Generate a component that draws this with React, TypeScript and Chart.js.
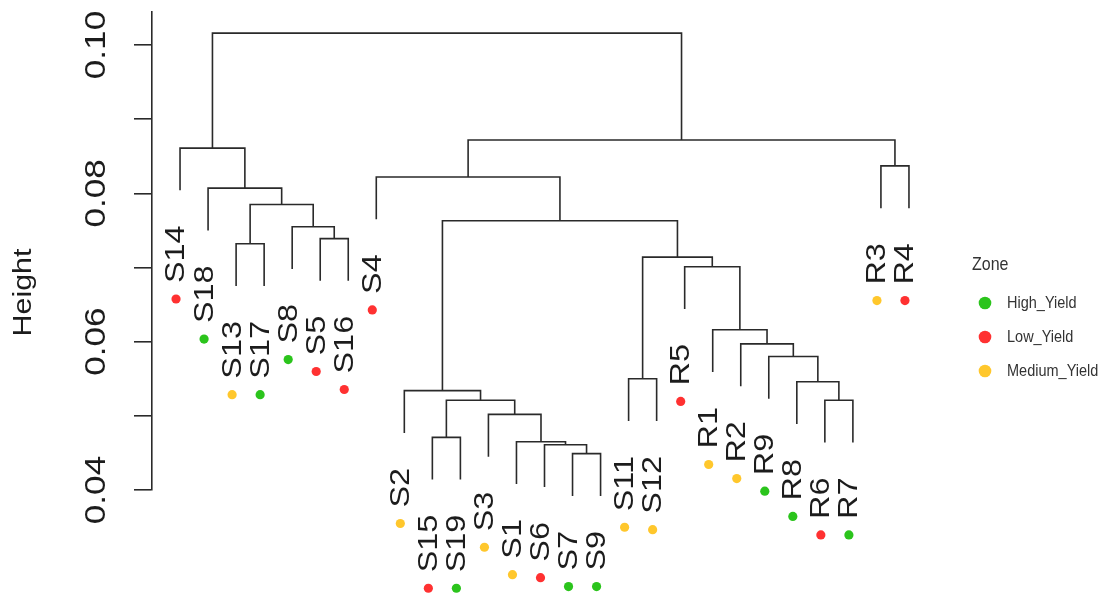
import React, { useEffect, useRef } from "react";
import { Chart, registerables } from "chart.js";

Chart.register(...registerables);

// ---- data ----
const leafLabels = [
  "S14", "S18", "S13", "S17", "S8", "S5", "S16", "S4", "S2", "S15", "S19", "S3", "S1", "S6",
  "S7", "S9", "S11", "S12", "R5", "R1", "R2", "R9", "R8", "R6", "R7", "R3", "R4",
];
const leafZones = [
  "Low_Yield", "High_Yield", "Medium_Yield", "High_Yield", "High_Yield", "Low_Yield", "Low_Yield",
  "Low_Yield", "Medium_Yield", "Low_Yield", "High_Yield", "Medium_Yield", "Medium_Yield", "Low_Yield",
  "High_Yield", "High_Yield", "Medium_Yield", "Medium_Yield", "Low_Yield", "Medium_Yield",
  "Medium_Yield", "High_Yield", "High_Yield", "Low_Yield", "High_Yield", "Medium_Yield", "Low_Yield",
];
// merges (hclust style): "m<k>" refers to the k-th merge
const mergeLeft = [
  "S15", "S7", "S6", "S1", "S3", "m1", "S2", "S11", "R6", "R8", "R9", "R2", "R1",
  "R5", "m8", "m7", "S4", "R3", "m17", "S13", "S5", "S8", "m20", "S18", "S14", "m25",
];
const mergeRight = [
  "S19", "S9", "m2", "m3", "m4", "m5", "m6", "S12", "R7", "m9", "m10", "m11", "m12",
  "m13", "m14", "m15", "m16", "R4", "m18", "S17", "S16", "m21", "m22", "m23", "m24", "m19",
];
const mergeHeight = [
  0.0471, 0.0449, 0.0461, 0.0465, 0.0502, 0.0521, 0.0534, 0.055, 0.0521, 0.0546, 0.058, 0.0597,
  0.0616, 0.0701, 0.0714, 0.0763, 0.0822, 0.0837, 0.0872, 0.0732, 0.0739, 0.0755, 0.0785, 0.0807,
  0.0861, 0.1016,
];
const leafHang = 0.0057;
const yTickLabels = [0.04, 0.06, 0.08, 0.1];
const zoneNames = ["High_Yield", "Low_Yield", "Medium_Yield"];
const zoneColors = ["#2bc41c", "#ff3131", "#ffc72c"];

const LINE = "#2a2a2a";
const TEXT = "#1c1c1c";

function buildTree() {
  const nodeX: Record<string, number> = {};
  const nodeH: Record<string, number> = {};
  leafLabels.forEach((l, i) => {
    nodeX[l] = i + 1;
  });
  mergeLeft.forEach((a, k) => {
    const b = mergeRight[k];
    const id = "m" + (k + 1);
    const h = mergeHeight[k];
    nodeX[id] = (nodeX[a] + nodeX[b]) / 2;
    nodeH[id] = h;
    [a, b].forEach((c) => {
      if (!c.startsWith("m")) nodeH[c] = h - leafHang;
    });
  });
  return { nodeX, nodeH };
}

function drawText(
  ctx: CanvasRenderingContext2D,
  text: string,
  x: number,
  y: number,
  font: string,
  opts: { rotate?: boolean; stretch?: number; align?: CanvasTextAlign; color?: string }
) {
  ctx.save();
  ctx.font = font;
  ctx.fillStyle = opts.color || TEXT;
  ctx.textAlign = opts.align || "center";
  ctx.textBaseline = "middle";
  ctx.translate(x, y);
  if (opts.rotate) {
    ctx.rotate(-Math.PI / 2);
    ctx.scale(opts.stretch || 1, 1);
  } else {
    ctx.scale(1, opts.stretch || 1);
  }
  ctx.fillText(text, 0, 0);
  ctx.restore();
}

export default function App() {
  const ref = useRef<HTMLCanvasElement | null>(null);

  useEffect(() => {
    if (!ref.current) return;
    const { nodeX, nodeH } = buildTree();

    const datasets = mergeLeft.map((a, k) => {
      const b = mergeRight[k];
      const h = mergeHeight[k];
      return {
        label: "m" + (k + 1),
        data: [
          { x: nodeX[a], y: nodeH[a] },
          { x: nodeX[a], y: h },
          { x: nodeX[b], y: h },
          { x: nodeX[b], y: nodeH[b] },
        ],
        showLine: true,
        borderColor: LINE,
        borderWidth: 1.6,
        pointRadius: 0,
        tension: 0,
        fill: false,
        clip: false as any,
      };
    });

    const overlay = {
      id: "dendroOverlay",
      afterDraw(chart: any) {
        const ctx: CanvasRenderingContext2D = chart.ctx;
        const xs = chart.scales.x;
        const ys = chart.scales.y;
        const labelFont = '27px "Liberation Sans", Arial, sans-serif';
        const stretch = 1.2;

        // leaf labels + zone dots
        leafLabels.forEach((lab, i) => {
          const px = xs.getPixelForValue(i + 1);
          const yEnd = ys.getPixelForValue(nodeH[lab]);
          const top = yEnd + 35;
          ctx.font = labelFont;
          const w = ctx.measureText(lab).width * stretch;
          drawText(ctx, lab, px - 3, top, labelFont, { rotate: true, stretch, align: "right" });
          const zi = zoneNames.indexOf(leafZones[i]);
          ctx.save();
          ctx.fillStyle = zoneColors[zi];
          ctx.beginPath();
          ctx.arc(px - 4, top + w + 16, 4.6, 0, Math.PI * 2);
          ctx.fill();
          ctx.restore();
        });

        // y tick labels
        const axisX = ys.right;
        yTickLabels.forEach((v) => {
          const py = ys.getPixelForValue(v);
          drawText(ctx, v.toFixed(2), axisX - 55, py, '30px "Liberation Sans", Arial, sans-serif', {
            rotate: true,
            stretch: 1.17,
            align: "center",
          });
        });

        // axis title
        const midY = (ys.getPixelForValue(0.04) + ys.getPixelForValue(0.1)) / 2 + 25;
        drawText(ctx, "Height", 24, midY, '26px "Liberation Sans", Arial, sans-serif', {
          rotate: true,
          stretch: 1.17,
          align: "center",
        });

        // legend
        const lx = 972;
        drawText(ctx, "Zone", lx, 265, '16px "Liberation Sans", Arial, sans-serif', {
          stretch: 1.2,
          align: "left",
          color: "#333",
        });
        zoneNames.forEach((z, k) => {
          const cy = 303 + k * 34;
          ctx.save();
          ctx.fillStyle = zoneColors[k];
          ctx.beginPath();
          ctx.arc(985, cy, 6.3, 0, Math.PI * 2);
          ctx.fill();
          ctx.restore();
          drawText(ctx, z, 1007, cy, '14.5px "Liberation Sans", Arial, sans-serif', {
            stretch: 1.15,
            align: "left",
            color: "#333",
          });
        });
      },
    };

    const chart = new Chart(ref.current, {
      type: "scatter",
      data: { datasets: datasets as any },
      options: {
        animation: false,
        responsive: false,
        events: [],
        layout: { padding: { left: 0, top: 12, right: 169, bottom: 112 } },
        plugins: { legend: { display: false }, tooltip: { enabled: false } },
        scales: {
          x: { type: "linear", min: 0, max: 28, display: false },
          y: {
            type: "linear",
            min: 0.04,
            max: 0.10445,
            ticks: { display: false, stepSize: 0.01, includeBounds: false } as any,
            grid: {
              drawOnChartArea: false,
              drawTicks: true,
              tickLength: 18,
              color: LINE,
              lineWidth: 1.6,
            },
            border: { display: true, color: LINE, width: 1.6 },
            afterFit: (s: any) => {
              s.width = 152;
            },
          },
        },
      },
      plugins: [overlay],
    });
    return () => chart.destroy();
  }, []);

  return (
    <div style={{ position: "absolute", left: 0, top: 0, width: 1106, height: 602, background: "#fff" }}>
      <canvas ref={ref} width={1106} height={602} />
    </div>
  );
}
